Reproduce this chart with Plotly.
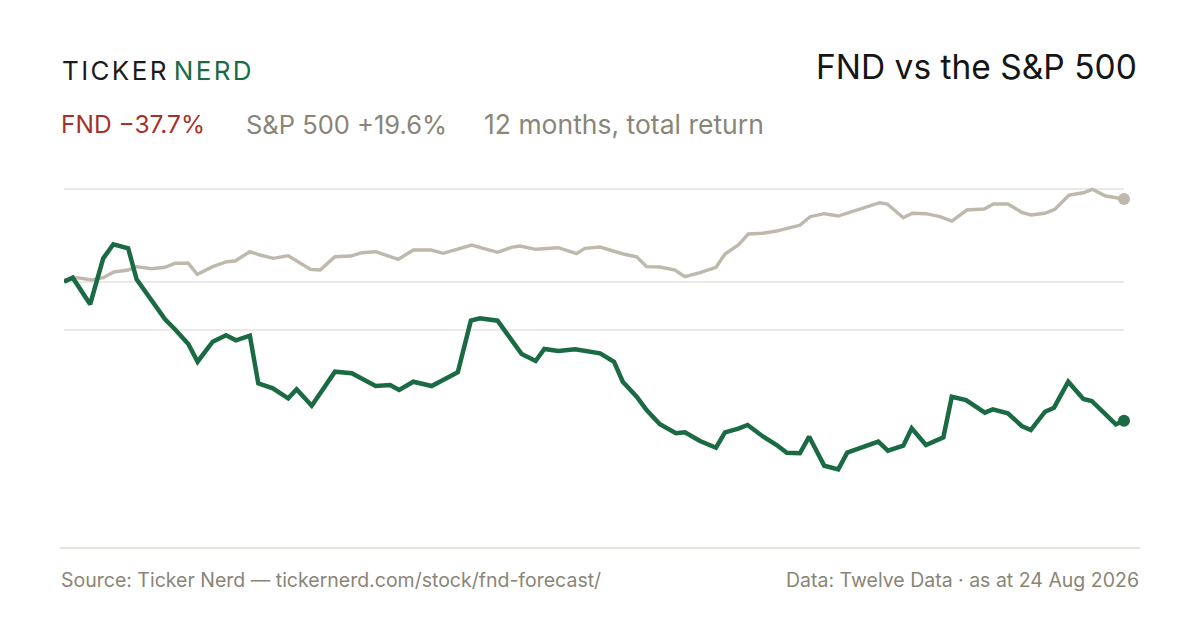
import plotly.graph_objects as go

# day offsets within the 12-month window (0 = 24 Aug 2025, 365 = 24 Aug 2026)
fnd_days = [0, 3.0, 9.0, 13.5, 17.0, 22.1, 25.0, 29.6, 34.8, 38.2, 42.8, 46.0, 51.2, 55.8,
            59.2, 64.0, 66.9, 71.9, 77.2, 80.1, 85.3, 93.3, 99.1, 107.3, 112.3, 115.4, 120.3,
            126.6, 130.6, 135.6, 140.1, 143.2, 149.3, 153.6, 157.6, 162.4, 165.4, 170.2, 176.0,
            184.6, 189.4, 192.4, 197.2, 200.6, 205.2, 210.7, 213.8, 219.0, 224.5, 227.6, 232.2,
            235.4, 240.8, 245.4, 248.9, 253.4, 256.6, 261.8, 266.6, 269.7, 280.4, 283.7, 289.0,
            291.9, 296.8, 302.8, 305.7, 310.6, 317.1, 319.8, 325.0, 329.8, 332.9, 337.8, 340.9,
            345.8, 351.0, 353.9, 362.2, 365]
# cumulative return, % (as drawn)
fnd_ret = [0.0, 0.87, -4.89, 5.06, 8.10, 7.23, 0.52, -3.38, -8.14, -10.30, -13.48, -17.32,
           -12.99, -11.60, -12.68, -11.69, -21.99, -23.07, -25.24, -23.29, -26.84, -19.48,
           -19.83, -22.58, -22.36, -23.44, -21.65, -22.58, -21.28, -19.61, -8.44, -7.92, -8.44,
           -12.25, -15.65, -17.16, -14.57, -15.00, -14.63, -15.50, -17.32, -21.65, -24.89,
           -27.77, -30.87, -32.81, -32.60, -34.48, -35.93, -32.60, -31.82, -31.02, -33.55,
           -35.35, -37.01, -37.14, -33.55, -39.83, -40.61, -37.01, -34.63, -36.58, -35.50,
           -31.73, -35.35, -33.68, -24.89, -25.61, -28.35, -27.62, -28.48, -31.23, -32.10,
           -28.14, -27.27, -21.65, -25.39, -25.82, -30.87, -30.09]

spx_days = [0, 4.4, 9.5, 13.5, 17.2, 22.1, 25.0, 30.2, 34.8, 38.2, 42.8, 45.9, 51.2, 56.0,
            58.9, 64.0, 67.5, 72.1, 77.2, 81.3, 84.9, 88.2, 93.3, 98.8, 102.5, 107.3, 115.1,
            120.3, 126.4, 130.6, 135.2, 140.4, 144.4, 149.3, 154.1, 157.0, 162.4, 170.2, 176.5,
            179.4, 184.6, 189.1, 192.6, 197.2, 200.6, 205.2, 210.4, 213.8, 219.0, 224.5, 227.6,
            232.2, 235.6, 240.6, 245.4, 250.0, 253.4, 256.9, 261.8, 266.6, 269.7, 280.9, 283.5,
            289.0, 292.1, 296.8, 301.6, 305.7, 310.9, 316.9, 320.0, 325.0, 329.8, 332.9, 337.8,
            341.2, 346.1, 351.0, 354.1, 358.7, 365]
spx_ret = [0.3, 0.87, 0.37, 0.87, 2.10, 2.53, 3.25, 2.81, 3.12, 3.98, 3.98, 1.60, 3.25, 4.33,
           4.48, 6.49, 5.78, 5.06, 5.63, 3.98, 2.68, 2.53, 5.41, 5.56, 6.28, 6.49, 4.85, 6.86,
           6.86, 6.15, 7.08, 7.94, 7.23, 6.36, 7.45, 7.73, 7.01, 7.36, 6.06, 7.23, 7.51, 6.71,
           6.00, 5.41, 3.25, 3.18, 2.53, 1.08, 1.95, 3.12, 6.00, 7.94, 10.32, 10.48, 10.97,
           11.69, 12.21, 14.07, 14.72, 14.22, 14.81, 17.10, 16.82, 13.85, 14.81, 14.72, 14.07,
           13.14, 15.52, 15.74, 16.82, 16.82, 15.02, 14.44, 14.81, 15.67, 18.77, 19.26, 20.0,
           18.55, 17.90]

grid_vals = [20, 0, -10.45]
y_range = [-47.25, 24.18]

GREEN = "#1a6b44"
SAND = "#bfb8ac"
MUTED = "#8a8577"
RED = "#a8302a"
FONT = "Inter"

# the page puts the figure 8px in from the top-left corner
OFF = 8
# plot area on screen: x 64..1124, y 170..500
X0, X1, Y0, Y1 = 64, 1124, 170, 500
L, T = X0 - OFF, Y0 - OFF
R, B = 1200 - (X1 - OFF), 630 - (Y1 - OFF)


def px(x):
    return (x - X0) / (X1 - X0)


def py(y):
    return (Y1 - y) / (Y1 - Y0)


fig = go.Figure()
fig.add_trace(go.Scatter(x=spx_days, y=spx_ret, mode="lines", name="S&P 500",
                         line=dict(color=SAND, width=3.4), hoverinfo="skip"))
fig.add_trace(go.Scatter(x=fnd_days, y=fnd_ret, mode="lines", name="FND",
                         line=dict(color=GREEN, width=4.5), hoverinfo="skip"))
fig.add_trace(go.Scatter(x=[spx_days[-1]], y=[spx_ret[-1]], mode="markers",
                         marker=dict(color=SAND, size=12), hoverinfo="skip"))
fig.add_trace(go.Scatter(x=[fnd_days[-1]], y=[fnd_ret[-1]], mode="markers",
                         marker=dict(color=GREEN, size=12), hoverinfo="skip"))
fig.update_traces(cliponaxis=False)

hs = "\u200a"
ann = [
    dict(x=px(60), y=py(70), xanchor="left", yanchor="middle",
         text=hs.join("TICKER") + " <span style='color:%s'>%s</span>" % (GREEN, hs.join("NERD")),
         font=dict(size=26, color="#1b1b1b", family=FONT)),
    dict(x=px(1139), y=py(67), xanchor="right", yanchor="middle",
         text="FND vs the S&P 500", font=dict(size=33.5, color="#151515", family=FONT)),
    dict(x=px(59), y=py(124), xanchor="left", yanchor="middle",
         text="FND \u221237.7%", font=dict(size=24.5, color=RED, family=FONT)),
    dict(x=px(244), y=py(124), xanchor="left", yanchor="middle",
         text="S&P 500 +19.6%", font=dict(size=25.5, color=MUTED, family=FONT)),
    dict(x=px(482), y=py(124), xanchor="left", yanchor="middle",
         text="12 months, total return", font=dict(size=26.5, color=MUTED, family=FONT)),
    dict(x=px(59), y=py(580), xanchor="left", yanchor="middle",
         text="Source: Ticker Nerd \u2014 tickernerd.com/stock/fnd-forecast/",
         font=dict(size=19.5, color=MUTED, family=FONT)),
    dict(x=px(1141), y=py(580), xanchor="right", yanchor="middle",
         text="Data: Twelve Data \u00b7 as at 24 Aug 2026",
         font=dict(size=19.5, color=MUTED, family=FONT)),
]
for a in ann:
    a.update(xref="paper", yref="paper", showarrow=False)

fig.update_layout(
    width=1200, height=630,
    margin=dict(l=L, r=R, t=T, b=B),
    paper_bgcolor="white", plot_bgcolor="white",
    showlegend=False,
    annotations=ann,
    shapes=[dict(type="line", xref="paper", yref="paper", x0=px(60), x1=px(1140),
                 y0=py(548), y1=py(548), line=dict(color="#dcd8cd", width=1.5))],
    xaxis=dict(range=[0, 365], showgrid=False, zeroline=False, showticklabels=False,
               showline=False, ticks=""),
    yaxis=dict(range=y_range, tickvals=grid_vals, showgrid=True, gridcolor="#ece9e4",
               gridwidth=1.5, zeroline=False, showticklabels=False, showline=False, ticks=""),
)
fig.write_html("out.html")
